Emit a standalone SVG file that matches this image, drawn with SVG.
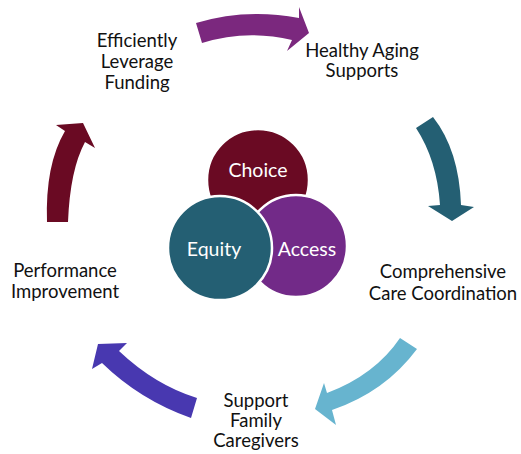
<svg xmlns="http://www.w3.org/2000/svg" width="521" height="454" viewBox="0 0 521 454">
<style>
.lbl{font-family:Lato,"Open Sans","Liberation Sans",sans-serif;font-size:18.5px;fill:#111;text-anchor:middle}
.in{font-family:Lato,"Open Sans","Liberation Sans",sans-serif;font-size:19.5px;fill:#fff;text-anchor:middle}
.c{stroke:#fff;stroke-width:2.5}
</style>
<rect width="521" height="454" fill="#fff"/>
<g id="connectors">
<path id="a-top" fill="#7B287E" d="M196,23 Q246,8 299,18 L299,7 L309,33 L287,51 L292,40 Q246,29 202,43 Z"/>
<path id="a-right" fill="#245F73" d="M416,128 L433,117 Q459,150 461,205 L474,207 L452,221 L428,206 L440,205 Q437,160 416,128 Z"/>
<path id="a-bright" fill="#67B4CF" d="M400,338 L417,349 Q385,392 332,410 L336,425 L315,409 L324,383 L327,393 Q375,375 400,338 Z"/>
<path id="a-bleft" fill="#4838B0" d="M197,398 L191,418 Q140,400 102,363 L92,369 L98,344 L127,343 L119,351 Q155,385 197,398 Z"/>
<path id="a-left" fill="#6A0A23" d="M47,222 Q45,165 65,131 L56,125 L83,123 L95,148 L85,142 Q70,170 68,222 Z"/>
</g>
<g id="choice"><circle class="c" cx="258" cy="180" r="51" fill="#6A0A23"/><text class="in" x="258" y="177">Choice</text></g>
<g id="access"><circle class="c" cx="296" cy="246" r="51" fill="#722A88"/><text class="in" x="307" y="256">Access</text></g>
<g id="equity"><circle class="c" cx="220" cy="248" r="52" fill="#245F73"/><text class="in" x="214" y="256">Equity</text></g>
<g id="funding"><text class="lbl" x="137" y="47">Efficiently</text><text class="lbl" x="137" y="68">Leverage</text><text class="lbl" x="137" y="89">Funding</text></g>
<g id="healthy"><text class="lbl" x="362" y="57">Healthy Aging</text><text class="lbl" x="362" y="77">Supports</text></g>
<g id="care"><text class="lbl" x="443" y="278">Comprehensive</text><text class="lbl" x="443" y="300">Care Coordination</text></g>
<g id="caregivers"><text class="lbl" x="256" y="407">Support</text><text class="lbl" x="256" y="427">Family</text><text class="lbl" x="256" y="447">Caregivers</text></g>
<g id="performance"><text class="lbl" x="65" y="277">Performance</text><text class="lbl" x="65" y="298">Improvement</text></g>
</svg>
